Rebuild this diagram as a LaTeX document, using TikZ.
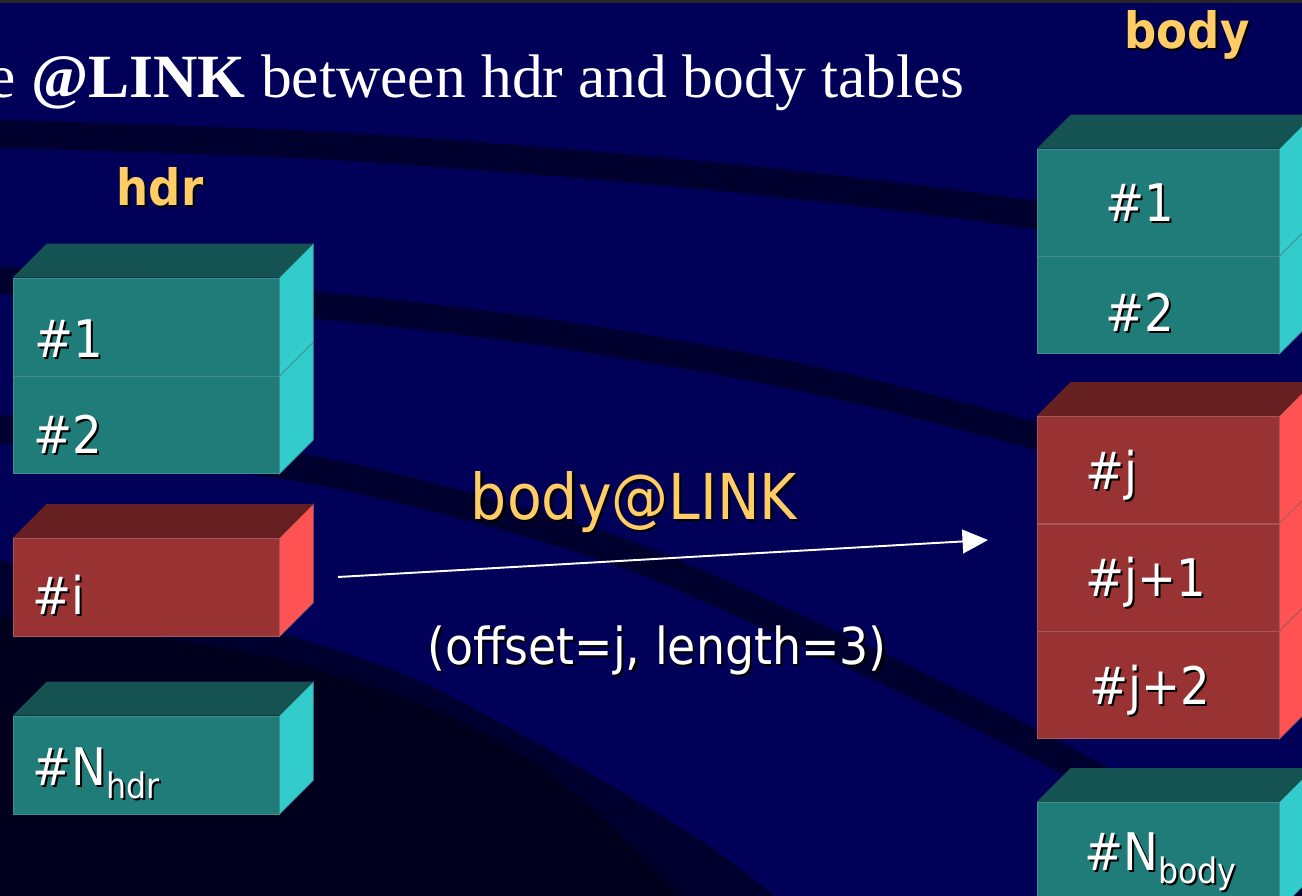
\documentclass[tikz,border=0pt]{standalone}
\usepackage{fontspec}
\usetikzlibrary{arrows.meta,positioning}

\newfontfamily\slidefont{DejaVu Sans}[FakeStretch=0.9]
\newfontfamily\titlefont{Liberation Serif}

\definecolor{navy}{RGB}{0,0,88}
\definecolor{swoosh}{RGB}{0,0,46}
\definecolor{deepnavy}{RGB}{0,0,30}
\definecolor{linkgold}{RGB}{255,204,102}
\definecolor{tealfront}{RGB}{31,124,121}
\definecolor{teallid}{RGB}{21,82,82}
\definecolor{tealside}{RGB}{51,204,204}
\definecolor{tealedge}{RGB}{64,142,142}
\definecolor{redfront}{RGB}{153,51,51}
\definecolor{redlid}{RGB}{102,32,34}
\definecolor{redside}{RGB}{255,82,82}
\definecolor{rededge}{RGB}{164,88,88}

% text with a dark drop shadow
\newcommand\castshadow[1]{\rlap{\kern1.2pt\raisebox{-1.2pt}{\color{black}#1}}#1}
\newcommand\lowered[1]{\raisebox{-7.4pt}{\fontsize{20}{22}\selectfont #1}}

\begin{document}
\begin{tikzpicture}[
        x=0.02cm, y=-0.02cm,
        every node/.style={inner sep=0pt},
        slab/.style={rectangle, fill=#1front, draw=#1edge, line width=0.4pt,
            append after command={\pgfextra{\pgfinterruptpath
                \filldraw[fill=#1side, draw=#1edge, line width=0.4pt]
                    (\tikzlastnode.north east) -- ++(34,-34)
                    -- ([shift={(34,-34)}]\tikzlastnode.south east)
                    -- (\tikzlastnode.south east) -- cycle;
                \endpgfinterruptpath}}},
        lid/.style={
            append after command={\pgfextra{\pgfinterruptpath
                \fill[#1lid]
                    (\tikzlastnode.north west) -- ++(34,-34)
                    -- ([shift={(34,-34)}]\tikzlastnode.north east)
                    -- (\tikzlastnode.north east) -- cycle;
                \endpgfinterruptpath}}},
        hdrbox/.style={slab=#1, minimum width=5.32cm, minimum height=1.96cm},
        bodybox/.style={slab=#1, minimum width=4.84cm, minimum height=2.14cm},
        tag/.style={anchor=base west, text=white, font=\slidefont\fontsize{29.5}{32}\selectfont},
        heading/.style={anchor=base, text=linkgold, font=\slidefont\bfseries\fontsize{28.5}{30}\selectfont},
        swooshline/.style={draw=swoosh, line width=#1},
        link/.style={white, line width=1.1pt, -{Triangle[length=14.5pt,width=13.5pt]}}
    ]

    \useasboundingbox (0,0) rectangle (1302,896);
    \clip (0,0) rectangle (1302,896);

    % backdrop
    \fill[navy] (0,0) rectangle (1302,896);
    \fill[black!85] (0,0) rectangle (1302,3);
    \fill[swoosh] plot[smooth] coordinates {(0,560) (280,633) (417,680) (567,760) (700,840) (775,896)}
        -- (0,896) -- cycle;
    \fill[deepnavy] plot[smooth] coordinates {(0,615) (250,653) (417,703) (550,773) (683,896)}
        -- (0,896) -- cycle;
    \draw[swooshline=0.56cm] plot[smooth] coordinates {(-30,133) (333,146) (700,175) (1000,210) (1330,262)};
    \draw[swooshline=0.54cm] plot[smooth] coordinates {(-30,278) (313,305) (550,333) (800,377) (1033,435) (1330,520)};
    \draw[swooshline=0.56cm] plot[smooth] coordinates {(-30,426) (313,470) (600,545) (800,630) (1033,743) (1330,905)};

    % Title
    \node[anchor=base east, text=white, font=\titlefont\fontsize{35}{40}\selectfont] (title)
        at (965,97) {e \textbf{@LINK} between hdr and body tables};

    % hdr table
    \node[heading] (hdrname) at (160,205) {\castshadow{hdr}};
    \node[hdrbox=teal, lid=teal] (h1) at (146,327) {};
    \node[hdrbox=teal, minimum height=1.94cm, below=0pt of h1] (h2) {};
    \node[hdrbox=red, lid=red, below=1.28cm of h2] (hi) {};
    \node[hdrbox=teal, lid=teal, below=1.58cm of hi] (hN) {};

    \node[tag] (h1t) at ([shift={(21,-19)}]h1.south west) {\castshadow{\#1}};
    \node[tag] (h2t) at ([shift={(20,-21)}]h2.south west) {\castshadow{\#2}};
    \node[tag] (hit) at ([shift={(19,-22)}]hi.south west) {\castshadow{\#i}};
    \node[tag] (hNt) at ([shift={(19,-29)}]hN.south west) {\castshadow{\#N\lowered{hdr}}};

    % body table
    \node[heading] (bodyname) at (1187,48) {\castshadow{body}};
    \node[bodybox=teal, lid=teal] (b1) at (1158,202.5) {};
    \node[bodybox=teal, minimum height=1.94cm, below=0pt of b1] (b2) {};
    \node[bodybox=red, lid=red, below=1.24cm of b2] (bj) {};
    \node[bodybox=red, below=0pt of bj] (bj1) {};
    \node[bodybox=red, below=0pt of bj1] (bj2) {};
    \node[bodybox=teal, lid=teal, below=1.26cm of bj2] (bN) {};

    \node[tag] (b1t) at ([shift={(68,-35)}]b1.south west) {\castshadow{\#1}};
    \node[tag] (b2t) at ([shift={(68,-23)}]b2.south west) {\castshadow{\#2}};
    \node[tag] (bjt) at ([shift={(48,-34)}]bj.south west) {\castshadow{\#j}};
    \node[tag] (bj1t) at ([shift={(48,-35)}]bj1.south west) {\castshadow{\#j+1}};
    \node[tag] (bj2t) at ([shift={(52,-35)}]bj2.south west) {\castshadow{\#j+2}};
    \node[tag] (bNt) at ([shift={(47,68)}]bN.north west) {\castshadow{\#N\lowered{body}}};

    % the link
    \coordinate (linkfrom) at (338,577);
    \coordinate (linkto) at (988,540);
    \draw[link] (linkfrom) -- (linkto);
    \node[anchor=base, text=linkgold, font=\slidefont\fontsize{36}{40}\selectfont] (linkname)
        at (634,519) {\castshadow{body@LINK}};
    \node[anchor=base, text=white, font=\slidefont\fontsize{29}{32}\selectfont] (linkargs)
        at (657,664) {\castshadow{(offset=j, length=3)}};

\end{tikzpicture}
\end{document}
